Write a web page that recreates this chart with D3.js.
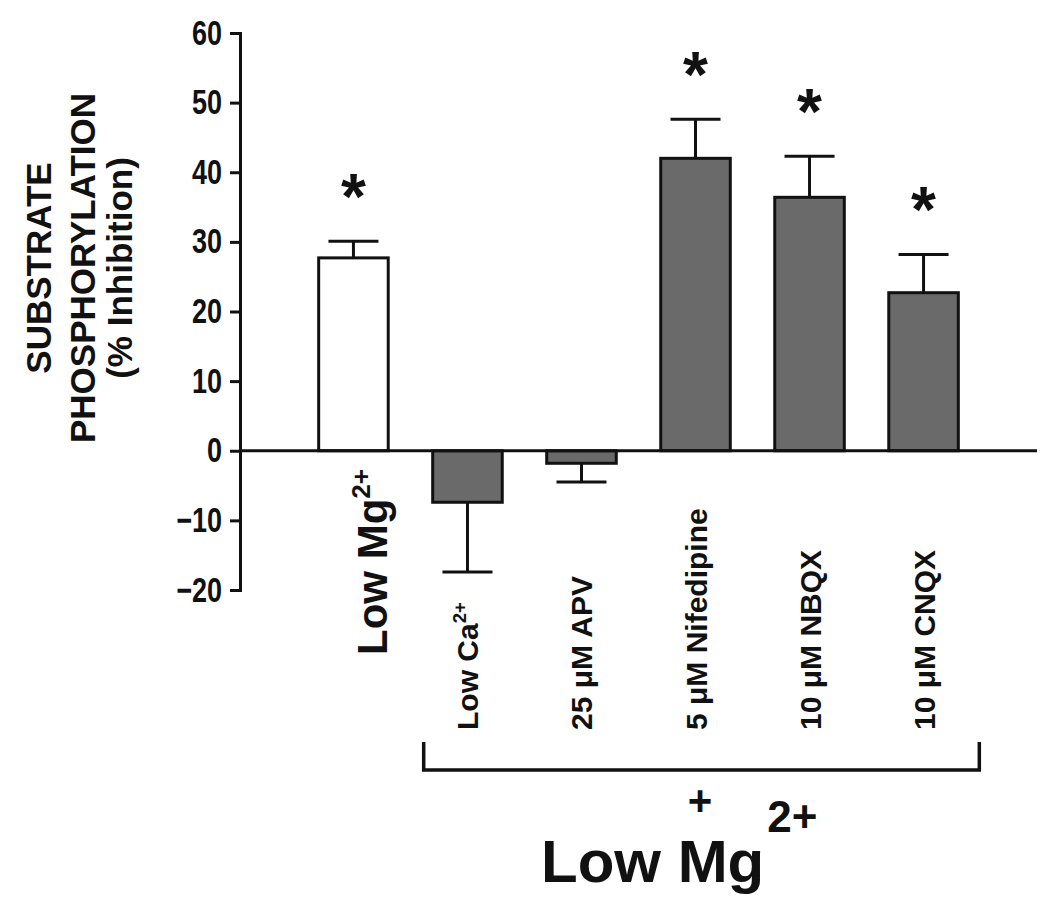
<!DOCTYPE html>
<html>
<head>
<meta charset="utf-8">
<script src="https://cdn.jsdelivr.net/npm/d3@7"></script>
<style>
  html, body { margin: 0; padding: 0; background: #fff; }
  svg { display: block; }
  text { font-family: "Liberation Sans", Arial, Helvetica, sans-serif; font-weight: bold; fill: #111; }
</style>
</head>
<body>
<div id="chart"></div>
<script>
// ---- data ----
const categories = ["Low Mg", "Low Ca", "25 \u03BCM APV", "5 \u03BCM Nifedipine", "10 \u03BCM NBQX", "10 \u03BCM CNQX"];
const superscripts = ["2+", "2+", "", "", "", ""];
const values = [27.7, -7.4, -1.8, 42.0, 36.4, 22.7];
const errors = [2.4, 10.0, 2.7, 5.6, 5.9, 5.5];
const significant = [true, false, false, true, true, true];
const groups = ["control", "treatment", "treatment", "treatment", "treatment", "treatment"];
const yTicks = [-20, -10, 0, 10, 20, 30, 40, 50, 60];
const yLabelLines = ["SUBSTRATE", "PHOSPHORYLATION", "(% Inhibition)"];
const bracketSymbol = "+";
const bracketLabel = "Low Mg";
const bracketLabelSup = "2+";

const W = 1050, H = 900;
const svg = d3.select("#chart").append("svg").attr("width", W).attr("height", H);

const y = d3.scaleLinear().domain([-20, 60]).range([590, 33]);
const x = d3.scaleBand().domain(categories).range([240, 1037]).paddingInner(0.39).paddingOuter(0.69);
const bw = x.bandwidth();
const fillFor = { control: "#ffffff", treatment: "#6a6a6a" };

// y axis
const yAxis = d3.axisLeft(y).tickValues(yTicks).tickSize(10).tickSizeOuter(10).tickPadding(8);
const gAx = svg.append("g").attr("transform", "translate(240,0)").call(yAxis);
gAx.select(".domain").attr("stroke", "#111").attr("stroke-width", 3);
gAx.selectAll(".tick line").attr("stroke", "#111").attr("stroke-width", 3);
gAx.selectAll(".tick text").attr("font-size", 27).attr("font-family", "Liberation Sans, Arial, sans-serif")
  .attr("font-weight", "bold").attr("fill", "#111")
  .attr("transform", "scale(1,1.28)");

// y label
const yl = svg.append("g").attr("transform", "translate(0,268) rotate(-90)");
const yLabelX = [51, 95, 132];
yLabelLines.forEach((t, i) => {
  yl.append("text").attr("x", 0).attr("y", yLabelX[i]).attr("text-anchor", "middle")
    .attr("font-size", 35).text(t);
});

// bars
const data = categories.map((c, i) => ({ c, v: values[i], e: errors[i], sig: significant[i], g: groups[i], sup: superscripts[i] }));
svg.append("g").selectAll("rect").data(data).join("rect")
  .attr("x", d => x(d.c))
  .attr("width", bw)
  .attr("y", d => y(Math.max(0, d.v)))
  .attr("height", d => Math.abs(y(d.v) - y(0)))
  .attr("fill", d => fillFor[d.g])
  .attr("stroke", "#111").attr("stroke-width", 3);

// error bars (one-sided, away from zero)
const eg = svg.append("g").attr("stroke", "#111").attr("stroke-width", 3);
data.forEach(d => {
  const cx = x(d.c) + bw / 2;
  const end = d.v >= 0 ? d.v + d.e : d.v - d.e;
  eg.append("line").attr("x1", cx).attr("x2", cx).attr("y1", y(d.v)).attr("y2", y(end));
  eg.append("line").attr("x1", cx - 25).attr("x2", cx + 25).attr("y1", y(end)).attr("y2", y(end));
});

// zero line
svg.append("line").attr("x1", 240).attr("x2", 1037).attr("y1", y(0)).attr("y2", y(0))
  .attr("stroke", "#111").attr("stroke-width", 3);

// significance asterisks
svg.append("g").selectAll("text").data(data.filter(d => d.sig)).join("text")
  .attr("x", d => x(d.c) + bw / 2)
  .attr("y", d => y(d.v + d.e) - 22)
  .attr("text-anchor", "middle")
  .attr("font-size", 64)
  .text("*");

// category labels (rotated)
data.forEach((d, i) => {
  const cx = x(d.c) + bw / 2;
  const big = i === 0;
  const fs = big ? 42 : 30;
  const bx = big ? cx + 34 : cx + 11;
  const by = big ? 655 : 730;
  const t = svg.append("text")
    .attr("transform", `translate(${bx},${by}) rotate(-90)`)
    .attr("font-size", fs);
  t.append("tspan").text(d.c);
  if (d.sup) {
    t.append("tspan").attr("font-size", fs * 0.62).attr("dy", -fs * 0.42).text(d.sup);
  }
});

// bracket
const bl = x(categories[1]) - 9;
const br = x(categories[5]) + bw + 21;
svg.append("path")
  .attr("d", `M${bl},742 V770 H${br} V742`)
  .attr("fill", "none").attr("stroke", "#111").attr("stroke-width", 3.5);

svg.append("text").attr("x", 700).attr("y", 815).attr("text-anchor", "middle")
  .attr("font-size", 42).text(bracketSymbol);

const bt = svg.append("text").attr("x", 541).attr("y", 882).attr("font-size", 60);
bt.append("tspan").text(bracketLabel);
bt.append("tspan").attr("font-size", 44).attr("dx", 3).attr("dy", -50).text(bracketLabelSup);
</script>
</body>
</html>
